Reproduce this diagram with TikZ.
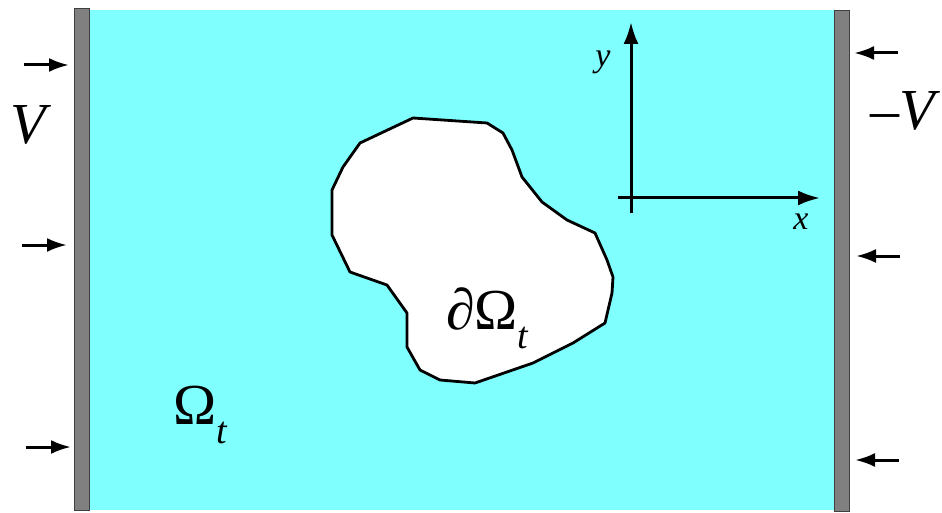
\documentclass[tikz,border=0pt]{standalone}
\usepackage{fontspec}
\setmainfont{Liberation Serif}
\usetikzlibrary{arrows.meta}
\definecolor{fluid}{HTML}{80FFFF}
\definecolor{wallgrey}{HTML}{808080}
\definecolor{wallline}{HTML}{404040}
\newcommand{\subt}{\raisebox{-0.32em}{\fontsize{38}{38}\selectfont\itshape t}}
\begin{document}
\begin{tikzpicture}[x=1pt,y=-1pt,
  wall/.style={fill=wallgrey,draw=wallline,line width=1pt},
  push/.style={line width=3pt,-{Latex[length=20pt,width=14pt]}},
  axis/.style={line width=3pt,-{Latex[length=22pt,width=15pt]}},
  big/.style={font=\fontsize{58}{58}\selectfont, inner sep=0pt},
  small/.style={font=\fontsize{34}{34}\selectfont\itshape, inner sep=0pt}]
\useasboundingbox (0,0) rectangle (942,513);
% fluid domain
\fill[fluid] (89,10) rectangle (834,510);
% walls
\draw[wall] (74,9) rectangle (89,510);
\draw[wall] (834,11) rectangle (849,511);
% body
\filldraw[fill=white,draw=black,line width=2.8pt,line join=round]
  (413,118) -- (487,123) -- (503,133) -- (512,150) -- (522,177) -- (542,202)
  -- (567,220) -- (595,233) -- (607,260) -- (613,277) -- (612,293) -- (605,323)
  -- (573,343) -- (533,363) -- (475,383) -- (440,380) -- (420,370) -- (407,347)
  -- (407,313) -- (387,285) -- (350,272) -- (332,235) -- (332,190) -- (343,167)
  -- (360,143) -- cycle;
% left arrows
\coordinate (l1s) at (24,65);  \coordinate (l1e) at (69,65);
\coordinate (l2s) at (22,245); \coordinate (l2e) at (67,245);
\coordinate (l3s) at (26,447); \coordinate (l3e) at (71,447);
\draw[push] (l1s) -- (l1e);
\draw[push] (l2s) -- (l2e);
\draw[push] (l3s) -- (l3e);
% right arrows
\coordinate (r1s) at (898,53);  \coordinate (r1e) at (854,53);
\coordinate (r2s) at (900,256); \coordinate (r2e) at (856,256);
\coordinate (r3s) at (899,460); \coordinate (r3e) at (855,460);
\draw[push] (r1s) -- (r1e);
\draw[push] (r2s) -- (r2e);
\draw[push] (r3s) -- (r3e);
% axes
\coordinate (o) at (631,198);
\coordinate (ybot) at (631,213); \coordinate (ytop) at (631,22);
\coordinate (xl) at (618,198); \coordinate (xr) at (820,198);
\draw[axis] (ybot) -- (ytop);
\draw[axis] (xl) -- (xr);
\node[small] (ylab) at (603,62) {y};
\node[small] (xlab) at (801,222) {x};
% labels
\node[big] (vl) at (28,125) {\itshape V};
\node[big] (vr) at (903,111) {–\itshape V};
\node[big,anchor=west] (om) at (173,415) {Ω\subt};
\node[big,anchor=west] (dom) at (446,318) {∂Ω\subt};
\end{tikzpicture}
\end{document}
